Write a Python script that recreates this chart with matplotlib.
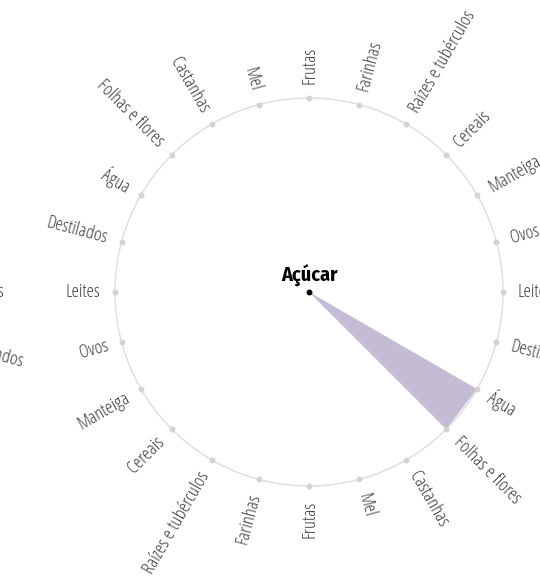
import numpy as np
import matplotlib.pyplot as plt
from matplotlib.patches import Circle, Polygon

# categories around the ring, clockwise from the top (the list repeats twice)
categories = ['Frutas', 'Farinhas', 'Raízes e tubérculos', 'Cereais', 'Manteiga',
              'Ovos', 'Leites', 'Destilados', 'Água', 'Folhas e flores',
              'Castanhas', 'Mel']
ring = categories + categories
center_label = 'Açúcar'
# wedge spans these two ring slots (right half)
wedge_from = 'Água'
wedge_to = 'Folhas e flores'

plt.rcParams['font.family'] = ['Open Sans', 'DejaVu Sans']

W, H = 540, 576
fig = plt.figure(figsize=(W / 100, H / 100), dpi=100)
ax = fig.add_axes([0, 0, 1, 1])
ax.set_xlim(0, W)
ax.set_ylim(H, 0)
ax.set_aspect('equal')
ax.axis('off')

R = 194
R_LABEL = 208.5


def slot_xy(cx, cy, i, r):
  th = np.deg2rad(i * 360 / len(ring))
  return cx + r * np.sin(th), cy - r * np.cos(th)


def draw_labels(cx, cy):
  n = len(ring)
  for i, name in enumerate(ring):
    deg = i * 360 / n
    x, y = slot_xy(cx, cy, i, R_LABEL)
    rot = 90 - deg
    ha = 'left'
    if deg >= 180:
      rot += 180
      ha = 'right'
    ax.text(x, y, name, rotation=rot, rotation_mode='anchor', ha=ha, va='center',
            fontsize=13.5, color='#3c3c3c', fontstretch='condensed', fontweight=300)


def draw_ring(cx, cy, label):
  ax.add_patch(Circle((cx, cy), R, fill=False, ec='#dddddd', lw=1))
  pts = [slot_xy(cx, cy, i, R) for i in range(len(ring))]
  ax.scatter([p[0] for p in pts], [p[1] for p in pts], s=18, color='#d3d3d3', zorder=3,
             linewidths=0)
  draw_labels(cx, cy)
  a = slot_xy(cx, cy, ring.index(wedge_from), R)
  b = slot_xy(cx, cy, ring.index(wedge_to), R)
  ax.add_patch(Polygon([(cx, cy), a, b], closed=True, fc='#c4bbd4', ec='none', zorder=2))
  ax.scatter([cx], [cy], s=18, color='black', zorder=4, linewidths=0)
  ax.text(cx, cy - 17, label, ha='center', va='center', fontsize=14.5,
          fontweight='bold', family=['Fira Sans Condensed', 'DejaVu Sans'], color='black')


draw_ring(309, 292, center_label)
# neighbouring chart, mostly out of frame on the left
draw_labels(309 - 548, 292)

fig.savefig('out.png', dpi=100)
